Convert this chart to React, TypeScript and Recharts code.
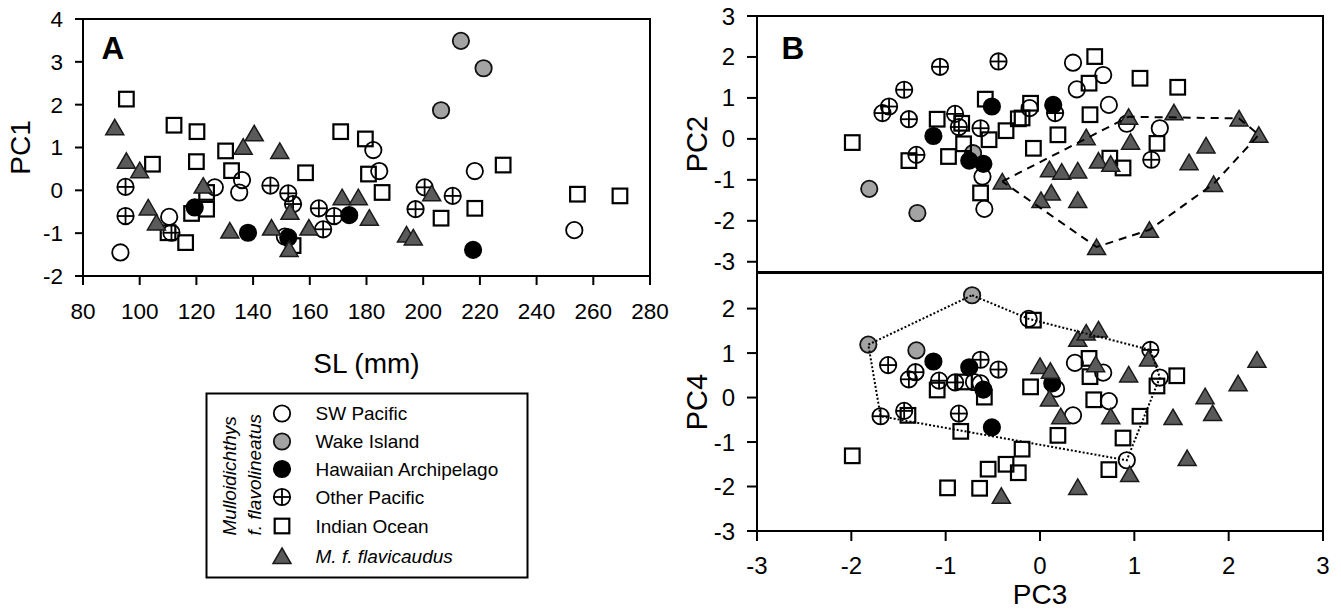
import React from "react";
import { ScatterChart, Scatter, XAxis, YAxis, ReferenceArea } from "recharts";

type Pt = { x: number; y: number };

const FONT = '"Liberation Sans", Arial, sans-serif';

// ---- Panel A: SL (mm) vs PC1
const aSwPacific: Pt[] = [
  { x: 182.4, y: 0.94 }, { x: 184.5, y: 0.45 }, { x: 136.1, y: 0.24 }, { x: 135.1, y: -0.05 },
  { x: 126.5, y: 0.07 }, { x: 110.4, y: -0.62 }, { x: 93.2, y: -1.45 }, { x: 151.2, y: -1.08 },
  { x: 218.2, y: 0.45 }, { x: 253.3, y: -0.93 },
];
const aWake: Pt[] = [{ x: 213.3, y: 3.49 }, { x: 221.3, y: 2.85 }, { x: 206.3, y: 1.87 }];
const aHawaii: Pt[] = [
  { x: 119.4, y: -0.4 }, { x: 138.2, y: -0.99 }, { x: 152.4, y: -1.1 }, { x: 173.9, y: -0.58 },
  { x: 217.6, y: -1.39 },
];
const aOtherPac: Pt[] = [
  { x: 95, y: 0.08 }, { x: 95, y: -0.6 }, { x: 111.2, y: -0.99 }, { x: 146.1, y: 0.11 },
  { x: 152.4, y: -0.07 }, { x: 154.1, y: -0.32 }, { x: 163.2, y: -0.42 }, { x: 164.7, y: -0.91 },
  { x: 168.6, y: -0.6 }, { x: 197.3, y: -0.44 }, { x: 200.5, y: 0.07 }, { x: 210.4, y: -0.13 },
];
const aIndian: Pt[] = [
  { x: 95.3, y: 2.13 }, { x: 112.1, y: 1.52 }, { x: 120.2, y: 1.37 }, { x: 130.3, y: 0.92 },
  { x: 170.9, y: 1.37 }, { x: 179.6, y: 1.2 }, { x: 104.5, y: 0.61 }, { x: 120, y: 0.67 },
  { x: 132.4, y: 0.46 }, { x: 158.5, y: 0.41 }, { x: 180.7, y: 0.38 }, { x: 185.5, y: -0.05 },
  { x: 123.6, y: -0.05 }, { x: 123.6, y: -0.44 }, { x: 118.3, y: -0.54 }, { x: 110, y: -0.99 },
  { x: 116.2, y: -1.22 }, { x: 154.1, y: -1.29 }, { x: 228.2, y: 0.59 }, { x: 206.3, y: -0.65 },
  { x: 218.2, y: -0.42 }, { x: 254.4, y: -0.09 }, { x: 269.4, y: -0.13 },
];
const aFlavicaudus: Pt[] = [
  { x: 91.2, y: 1.47 }, { x: 140.4, y: 1.33 }, { x: 136.5, y: 1.02 }, { x: 149.4, y: 0.92 },
  { x: 95.3, y: 0.69 }, { x: 100, y: 0.47 }, { x: 122.4, y: 0.11 }, { x: 103, y: -0.4 },
  { x: 105.9, y: -0.75 }, { x: 153, y: -0.5 }, { x: 131.8, y: -0.94 }, { x: 146.5, y: -0.87 },
  { x: 152.7, y: -1.37 }, { x: 159.7, y: -0.87 }, { x: 171.4, y: -0.16 }, { x: 177.1, y: -0.16 },
  { x: 181, y: -0.64 }, { x: 194.1, y: -1.03 }, { x: 196.5, y: -1.1 }, { x: 203, y: -0.07 },
];

// ---- Panel B top: PC3 vs PC2
const bSwPacific: Pt[] = [
  { x: -0.61, y: -0.92 }, { x: -0.59, y: -1.71 }, { x: -0.11, y: 0.75 }, { x: 0.35, y: 1.86 },
  { x: 0.67, y: 1.56 }, { x: 0.39, y: 1.21 }, { x: 0.73, y: 0.83 }, { x: 0.92, y: 0.37 },
  { x: 1.27, y: 0.26 },
];
const bWake: Pt[] = [{ x: -1.81, y: -1.22 }, { x: -1.3, y: -1.81 }, { x: -0.71, y: -0.35 }];
const bHawaii: Pt[] = [
  { x: -1.13, y: 0.07 }, { x: -0.75, y: -0.53 }, { x: -0.6, y: -0.61 }, { x: -0.51, y: 0.79 },
  { x: 0.14, y: 0.83 },
];
const bOtherPac: Pt[] = [
  { x: -1.06, y: 1.76 }, { x: -0.44, y: 1.89 }, { x: -1.44, y: 1.2 }, { x: -1.6, y: 0.79 },
  { x: -1.67, y: 0.63 }, { x: -1.39, y: 0.48 }, { x: -1.31, y: -0.39 }, { x: -0.9, y: 0.61 },
  { x: -0.86, y: 0.29 }, { x: -0.63, y: 0.26 }, { x: 0.16, y: 0.63 }, { x: 1.18, y: -0.51 },
];
const bIndian: Pt[] = [
  { x: -1.99, y: -0.09 }, { x: -1.39, y: -0.53 }, { x: -1.09, y: 0.48 }, { x: -0.83, y: 0.38 },
  { x: -0.81, y: -0.12 }, { x: -0.97, y: -0.43 }, { x: -0.63, y: -1.32 }, { x: -0.54, y: -0.02 },
  { x: -0.58, y: 0.97 }, { x: -0.36, y: 0.2 }, { x: -0.23, y: 0.49 }, { x: -0.19, y: 0.51 },
  { x: -0.1, y: 0.87 }, { x: -0.07, y: -0.23 }, { x: 0.58, y: 2.01 }, { x: 0.52, y: 1.36 },
  { x: 1.06, y: 1.48 }, { x: 1.46, y: 1.26 }, { x: 0.53, y: 0.59 }, { x: 0.19, y: 0.1 },
  { x: 1.24, y: -0.11 }, { x: 0.74, y: -0.47 }, { x: 0.88, y: -0.71 },
];
const bFlavicaudus: Pt[] = [
  { x: -0.4, y: -1.04 }, { x: 0.94, y: 0.54 }, { x: 1.42, y: 0.65 }, { x: 2.11, y: 0.5 },
  { x: 2.32, y: 0.1 }, { x: 0.49, y: 0.04 }, { x: 0.96, y: -0.07 }, { x: 1.76, y: -0.16 },
  { x: 1.58, y: -0.57 }, { x: 0.62, y: -0.53 }, { x: 0.75, y: -0.61 }, { x: 0.1, y: -0.74 },
  { x: 0.23, y: -0.8 }, { x: 0.4, y: -0.77 }, { x: 0.12, y: -1.31 }, { x: 0.01, y: -1.49 },
  { x: 0.4, y: -1.49 }, { x: 1.84, y: -1.1 }, { x: 1.16, y: -2.22 }, { x: 0.6, y: -2.64 },
];
const bHull: Pt[] = [
  { x: -0.4, y: -1.04 }, { x: 0.94, y: 0.54 }, { x: 2.11, y: 0.5 }, { x: 2.32, y: 0.1 },
  { x: 1.84, y: -1.1 }, { x: 1.16, y: -2.22 }, { x: 0.6, y: -2.64 }, { x: -0.4, y: -1.04 },
];

// ---- Panel B bottom: PC3 vs PC4
const cSwPacific: Pt[] = [
  { x: -0.12, y: 1.77 }, { x: -0.7, y: 0.35 }, { x: -0.63, y: 0.32 }, { x: 0.37, y: 0.78 },
  { x: 0.67, y: 0.56 }, { x: 1.27, y: 0.45 }, { x: 0.17, y: 0.2 }, { x: 0.73, y: -0.08 },
  { x: 0.35, y: -0.4 }, { x: 0.92, y: -1.41 },
];
const cWake: Pt[] = [{ x: -0.72, y: 2.3 }, { x: -1.82, y: 1.19 }, { x: -1.31, y: 1.06 }];
const cHawaii: Pt[] = [
  { x: -1.13, y: 0.81 }, { x: -0.75, y: 0.68 }, { x: -0.6, y: 0.18 }, { x: -0.51, y: -0.67 },
  { x: 0.13, y: 0.32 },
];
const cOtherPac: Pt[] = [
  { x: -1.61, y: 0.73 }, { x: -1.32, y: 0.57 }, { x: -1.39, y: 0.41 }, { x: -1.07, y: 0.38 },
  { x: -0.9, y: 0.34 }, { x: -0.63, y: 0.85 }, { x: -0.44, y: 0.63 }, { x: -1.69, y: -0.42 },
  { x: -1.44, y: -0.3 }, { x: -0.86, y: -0.36 }, { x: 1.17, y: 1.07 },
];
const cIndian: Pt[] = [
  { x: -0.07, y: 1.74 }, { x: -1.09, y: 0.17 }, { x: -0.8, y: 0.35 }, { x: -0.59, y: 0.01 },
  { x: -1.4, y: -0.4 }, { x: -0.84, y: -0.76 }, { x: -0.1, y: 0.24 }, { x: -1.99, y: -1.31 },
  { x: -0.19, y: -1.16 }, { x: -0.36, y: -1.5 }, { x: -0.23, y: -1.69 }, { x: -0.55, y: -1.61 },
  { x: -0.98, y: -2.03 }, { x: -0.64, y: -2.04 }, { x: 0.52, y: 0.88 }, { x: 0.53, y: 0.47 },
  { x: 1.45, y: 0.49 }, { x: 1.24, y: 0.26 }, { x: 0.57, y: -0.05 }, { x: 1.06, y: -0.42 },
  { x: 0.19, y: -0.85 }, { x: 0.88, y: -0.91 }, { x: 0.73, y: -1.62 },
];
const cFlavicaudus: Pt[] = [
  { x: 0.0, y: 0.71 }, { x: 0.4, y: 1.32 }, { x: 0.49, y: 1.46 }, { x: 0.62, y: 1.53 },
  { x: 1.15, y: 0.88 }, { x: 0.59, y: 0.75 }, { x: 0.94, y: 0.52 }, { x: 0.11, y: 0.6 },
  { x: 0.1, y: -0.02 }, { x: 0.22, y: -0.42 }, { x: 0.75, y: -0.42 }, { x: 1.41, y: -0.44 },
  { x: 1.75, y: 0.03 }, { x: 1.83, y: -0.35 }, { x: 2.1, y: 0.32 }, { x: 2.3, y: 0.85 },
  { x: 0.95, y: -1.72 }, { x: 1.56, y: -1.36 }, { x: 0.4, y: -2.01 }, { x: -0.41, y: -2.21 },
];
const cHull: Pt[] = [
  { x: -0.72, y: 2.3 }, { x: -0.12, y: 1.77 }, { x: 1.17, y: 1.07 }, { x: 1.27, y: 0.45 },
  { x: 0.92, y: -1.41 }, { x: -1.69, y: -0.42 }, { x: -1.82, y: 1.19 }, { x: -0.72, y: 2.3 },
];

const slTicks = [80, 100, 120, 140, 160, 180, 200, 220, 240, 260, 280];
const pc1Ticks = [-2, -1, 0, 1, 2, 3, 4];
const pcTicks = [-3, -2, -1, 0, 1, 2, 3];
const pc4Ticks = [-3, -2, -1, 0, 1, 2];

const legendLabels = ["SW Pacific", "Wake Island", "Hawaiian Archipelago", "Other Pacific", "Indian Ocean", "M. f. flavicaudus"];

// marker shapes
const R = 8.2;
const OpenCircle = (p: any) => <circle cx={p.cx} cy={p.cy} r={R} fill="none" stroke="#000" strokeWidth={1.8} />;
const GrayCircle = (p: any) => <circle cx={p.cx} cy={p.cy} r={R} fill="#a3a3a3" stroke="#111" strokeWidth={1.8} />;
const BlackCircle = (p: any) => <circle cx={p.cx} cy={p.cy} r={R} fill="#000" stroke="#000" strokeWidth={1.8} />;
const PlusCircle = (p: any) => (
  <g stroke="#000" strokeWidth={1.8} fill="none">
    <circle cx={p.cx} cy={p.cy} r={R} />
    <line x1={p.cx - R} x2={p.cx + R} y1={p.cy} y2={p.cy} />
    <line x1={p.cx} x2={p.cx} y1={p.cy - R} y2={p.cy + R} />
  </g>
);
const Square = (p: any) => (
  <rect x={p.cx - 7.3} y={p.cy - 7.3} width={14.6} height={14.6} fill="none" stroke="#000" strokeWidth={2.2} />
);
const Triangle = (p: any) => (
  <polygon
    points={`${p.cx},${p.cy - 8} ${p.cx + 9},${p.cy + 7.5} ${p.cx - 9},${p.cy + 7.5}`}
    fill="#5a5a5a" stroke="#1a1a1a" strokeWidth={1.5} strokeLinejoin="miter"
  />
);
const NoDot = () => <g />;
const shapes = [OpenCircle, GrayCircle, BlackCircle, PlusCircle, Square, Triangle];

const axisStroke = { stroke: "#000", strokeWidth: 2 };

function groups(sets: Pt[][]) {
  return sets.map((d, i) => (
    <Scatter key={i} data={d} shape={shapes[i]} isAnimationActive={false} />
  ));
}

function PanelA() {
  return (
    <ScatterChart width={700} height={400} margin={{ top: 19, right: 50, bottom: 14, left: 5 }}>
      <XAxis type="number" dataKey="x" domain={[80, 280]} ticks={slTicks} height={110}
        tickSize={9} tickMargin={18} axisLine={axisStroke} tickLine={axisStroke}
        tick={{ fill: "#000", fontSize: 22.5, fontFamily: FONT }}
        label={{ value: "SL (mm)", position: "insideBottom", offset: 13, fill: "#000", fontSize: 28, fontFamily: FONT }} />
      <YAxis type="number" dataKey="y" domain={[-2, 4]} ticks={pc1Ticks} width={78}
        tickSize={8} tickMargin={12} axisLine={axisStroke} tickLine={axisStroke}
        tick={{ fill: "#000", fontSize: 22.5, fontFamily: FONT }}
        label={{ value: "PC1", angle: -90, position: "insideLeft", offset: 15, fill: "#000", fontSize: 28, fontFamily: FONT, style: { textAnchor: "middle" } }} />
      <ReferenceArea x1={80} x2={280} y1={-2} y2={4} fill="none" stroke="#000" strokeWidth={2} />
      {groups([aSwPacific, aWake, aHawaii, aOtherPac, aIndian, aFlavicaudus])}
    </ScatterChart>
  );
}

function PanelBTop() {
  return (
    <ScatterChart width={681} height={280} margin={{ top: 16, right: 18, bottom: 8, left: 10 }}>
      <XAxis type="number" dataKey="x" domain={[-3, 3]} hide />
      <YAxis type="number" dataKey="y" domain={[-3.25, 3]} ticks={pcTicks} width={87}
        tickSize={10} tickMargin={12} axisLine={axisStroke} tickLine={axisStroke}
        tick={{ fill: "#000", fontSize: 24, fontFamily: FONT }}
        label={{ value: "PC2", angle: -90, position: "insideLeft", offset: 27, fill: "#000", fontSize: 29, fontFamily: FONT, style: { textAnchor: "middle" } }} />
      <ReferenceArea x1={-3} x2={3} y1={-3.25} y2={3} fill="none" stroke="#000" strokeWidth={2} />
      {groups([bSwPacific, bWake, bHawaii, bOtherPac, bIndian, bFlavicaudus])}
      <Scatter data={bHull} shape={NoDot} line={{ stroke: "#000", strokeWidth: 2, strokeDasharray: "8 6" }} lineType="joint" isAnimationActive={false} />
    </ScatterChart>
  );
}

function PanelBBottom() {
  return (
    <ScatterChart width={681} height={349} margin={{ top: 11, right: 18, bottom: 0, left: 10 }}>
      <XAxis type="number" dataKey="x" domain={[-3, 3]} ticks={pcTicks} height={80}
        tickSize={10} tickMargin={16} axisLine={axisStroke} tickLine={axisStroke}
        tick={{ fill: "#000", fontSize: 24, fontFamily: FONT }}
        label={{ value: "PC3", position: "insideBottom", offset: 7, fill: "#000", fontSize: 28, fontFamily: FONT }} />
      <YAxis type="number" dataKey="y" domain={[-3, 2.8]} ticks={pc4Ticks} width={87}
        tickSize={10} tickMargin={12} axisLine={axisStroke} tickLine={axisStroke}
        tick={{ fill: "#000", fontSize: 24, fontFamily: FONT }}
        label={{ value: "PC4", angle: -90, position: "insideLeft", offset: 27, fill: "#000", fontSize: 29, fontFamily: FONT, style: { textAnchor: "middle" } }} />
      <ReferenceArea x1={-3} x2={3} y1={-3} y2={2.8} fill="none" stroke="#000" strokeWidth={2} />
      {groups([cSwPacific, cWake, cHawaii, cOtherPac, cIndian, cFlavicaudus])}
      <Scatter data={cHull} shape={NoDot} line={{ stroke: "#000", strokeWidth: 2, strokeDasharray: "2 2" }} lineType="joint" isAnimationActive={false} />
    </ScatterChart>
  );
}

function Overlay() {
  const rowY = [20, 48, 75.5, 103.5, 132.5, 162.5];
  return (
    <svg width={1341} height={611} style={{ position: "absolute", left: 0, top: 0, pointerEvents: "none" }}>
      <text x={101.5} y={59} fontSize={31.5} fontWeight="bold" fontFamily={FONT}>A</text>
      <text x={781.5} y={59} fontSize={31.5} fontWeight="bold" fontFamily={FONT}>B</text>
      <g transform="translate(206.5,393.5)" fontFamily={FONT}>
        <rect x={0} y={0} width={321} height={184} fill="#fff" stroke="#000" strokeWidth={2} />
        <text transform="translate(29,142) rotate(-90)" fontSize={19} fontStyle="italic">Mulloidichthys</text>
        <text transform="translate(54,142) rotate(-90)" fontSize={19} fontStyle="italic">f. flavolineatus</text>
        {legendLabels.map((t, i) => {
          const S = shapes[i];
          return (
            <g key={t}>
              <S cx={75.5} cy={rowY[i]} />
              <text x={109} y={rowY[i] + 6.7} fontSize={19} fontStyle={i === 5 ? "italic" : "normal"}>{t}</text>
            </g>
          );
        })}
      </g>
    </svg>
  );
}

export default function App() {
  return (
    <div style={{ position: "absolute", left: 0, top: 0, width: 1341, height: 611, background: "#fff", fontFamily: FONT }}>
      <div style={{ position: "absolute", left: 0, top: 0 }}><PanelA /></div>
      <div style={{ position: "absolute", left: 660, top: 0 }}><PanelBTop /></div>
      <div style={{ position: "absolute", left: 660, top: 262 }}><PanelBBottom /></div>
      <Overlay />
    </div>
  );
}
